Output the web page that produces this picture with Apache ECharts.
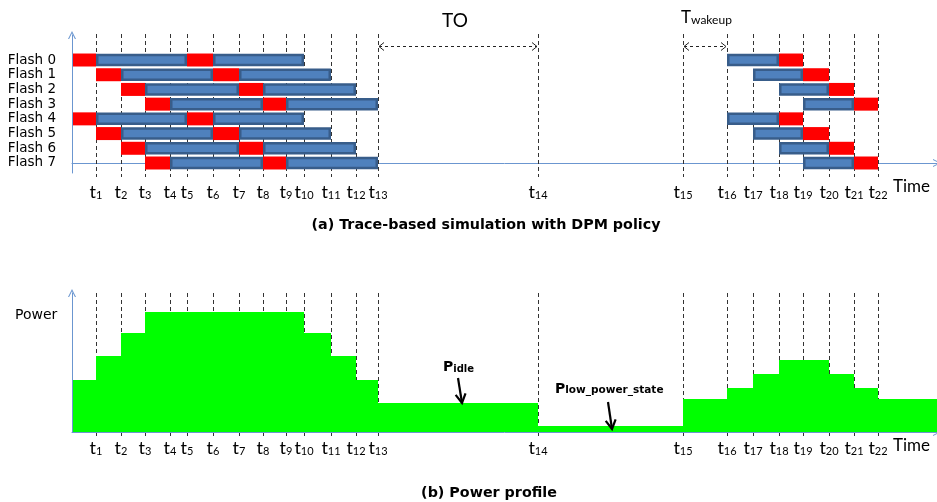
<!DOCTYPE html>
<html><head><meta charset="utf-8">
<script src="https://cdn.jsdelivr.net/npm/echarts@6/dist/echarts.min.js"></script>
<style>html,body{margin:0;padding:0;background:#fff}#c{width:937px;height:502px}</style>
</head><body><div id="c"></div>
<script>
// Time instants t0..t22 (t0 = time origin), in time units
const tickTimes = [0, 24, 49, 73, 98, 115, 141, 167, 191, 214, 232, 259, 284, 306, 466, 611, 655, 681, 707, 731, 757, 782, 806];
const timeEnd = 865;
const flashNames = ['Flash 0', 'Flash 1', 'Flash 2', 'Flash 3', 'Flash 4', 'Flash 5', 'Flash 6', 'Flash 7'];
// red operations: [flash, fromTick, toTick]
const redSegments = [
  [0, 0, 1], [0, 5, 6], [0, 18, 19],
  [1, 1, 2], [1, 6, 7], [1, 19, 20],
  [2, 2, 3], [2, 7, 8], [2, 20, 21],
  [3, 3, 4], [3, 8, 9], [3, 21, 22],
  [4, 0, 1], [4, 5, 6], [4, 18, 19],
  [5, 1, 2], [5, 6, 7], [5, 19, 20],
  [6, 2, 3], [6, 7, 8], [6, 20, 21],
  [7, 3, 4], [7, 8, 9], [7, 21, 22]
];
// blue operations: [flash, fromTick, toTick]
const blueSegments = [
  [0, 1, 5], [0, 6, 10], [0, 16, 18],
  [1, 2, 6], [1, 7, 11], [1, 17, 19],
  [2, 3, 7], [2, 8, 12], [2, 18, 20],
  [3, 4, 8], [3, 9, 13], [3, 19, 21],
  [4, 1, 5], [4, 6, 10], [4, 16, 18],
  [5, 2, 6], [5, 7, 11], [5, 17, 19],
  [6, 3, 7], [6, 8, 12], [6, 18, 20],
  [7, 4, 8], [7, 9, 13], [7, 19, 21]
];
// power profile: [fromTick, toTick (-1 = end of axis), power level]
const powerSteps = [
  [0, 1, 52], [1, 2, 76], [2, 3, 99], [3, 10, 120], [10, 11, 99], [11, 12, 76], [12, 13, 52],
  [13, 14, 29], [14, 15, 6], [15, 16, 33], [16, 17, 44], [17, 18, 58], [18, 20, 72],
  [20, 21, 58], [21, 22, 44], [22, -1, 33]
];
// interval annotations: [fromTick, toTick]
const intervalNotes = [[13, 14], [15, 16]];
const intervalLabels = ['TO', 'Twakeup'];
// power annotations: [textTime, textLevel, arrowFromTime, arrowFromLevel, arrowToTime, arrowToLevel]
const powerNotes = [[371, 67, 386, 54, 390, 29], [483, 45, 536, 30, 540, 3]];
const powerLabels = ['idle', 'low_power_state'];

const LATO = 'Lato, "Open Sans", sans-serif';
const DV = '"DejaVu Sans", Verdana, sans-serif';
const axisBlue = '#6B96D0';
const chevron = 'path://M0,10L5,0L10,10L8.6,10L5,2.8L1.4,10Z';

const tickRich = {
  t: { fontFamily: LATO, fontSize: 18, lineHeight: 20, verticalAlign: 'bottom', color: '#000' },
  s: { fontFamily: LATO, fontSize: 11, lineHeight: 10, verticalAlign: 'bottom', color: '#000' }
};
function tickLabel(v) {
  const i = tickTimes.indexOf(v);
  return i > 0 ? '{t|t}{s|' + i + '}' : '';
}
function xAxisOf(gridIndex, margin) {
  return {
    type: 'value', gridIndex: gridIndex, min: 0, max: timeEnd,
    axisLine: { show: true, lineStyle: { color: axisBlue, width: 1 }, symbol: ['none', chevron], symbolSize: [9, 8] },
    axisTick: { show: false }, splitLine: { show: false },
    axisLabel: { show: true, customValues: tickTimes.slice(1), formatter: tickLabel, rich: tickRich, margin: margin, showMinLabel: true, showMaxLabel: true }
  };
}

function vLine(dy1, dy2) {
  return function (params, api) {
    const cs = params.coordSys;
    const p = api.coord([api.value(0), api.value(1)]);
    const x = Math.round(p[0]) + 0.5;
    return { type: 'line', shape: { x1: x, y1: cs.y + dy1, x2: x, y2: cs.y + cs.height + dy2 },
      style: { stroke: '#333', lineWidth: 1, lineDash: [4, 3] } };
  };
}
function segItem(kind) {
  return function (params, api) {
    const a = api.coord([api.value(0), api.value(2)]);
    const b = api.coord([api.value(1), api.value(2)]);
    const w = b[0] - a[0];
    if (kind === 'red') {
      return { type: 'rect', shape: { x: a[0], y: a[1] - 6.5, width: w, height: 13 }, style: { fill: '#FF0000' } };
    }
    return { type: 'rect', shape: { x: a[0] + 1.25, y: a[1] - 5, width: w - 2.5, height: 10 },
      style: { fill: '#4F81BD', stroke: '#385D8A', lineWidth: 2.5 } };
  };
}
function intervalItem(params, api) {
  const cs = params.coordSys;
  const x0 = api.coord([api.value(0), 0])[0];
  const x1 = api.coord([api.value(1), 0])[0];
  const y = cs.y + 11.5;
  const idx = api.value(2);
  const st = { stroke: '#222', lineWidth: 1, fill: null };
  const children = [
    { type: 'line', shape: { x1: x0 + 1, y1: y, x2: x1 - 1, y2: y }, style: { stroke: '#222', lineWidth: 1, lineDash: [3, 3] } },
    { type: 'polyline', shape: { points: [[x0 + 6, y - 4], [x0 + 1, y], [x0 + 6, y + 4]] }, style: st },
    { type: 'polyline', shape: { points: [[x1 - 6, y - 4], [x1 - 1, y], [x1 - 6, y + 4]] }, style: st }
  ];
  if (idx === 0) {
    children.push({ type: 'text', style: { text: intervalLabels[0], x: (x0 + x1) / 2 - 3, y: y - 26, align: 'center', verticalAlign: 'middle', fontFamily: LATO, fontSize: 19, fill: '#000' } });
  } else {
    children.push({ type: 'text', style: { text: '{T|T}{s|wakeup}', x: x0 - 2, y: y - 30, align: 'left', verticalAlign: 'middle',
      rich: { T: { fontFamily: LATO, fontSize: 17, lineHeight: 20, verticalAlign: 'bottom', fill: '#000' },
              s: { fontFamily: LATO, fontSize: 12, lineHeight: 10, verticalAlign: 'bottom', fill: '#000' } } } });
  }
  return { type: 'group', children: children };
}
function powerItem(params, api) {
  const sc = api.value(6) === 1 ? 10.5 : 10;
  const t = api.coord([api.value(0), api.value(1)]);
  const f = api.coord([api.value(2), api.value(3)]);
  const e = api.coord([api.value(4), api.value(5)]);
  const dx = e[0] - f[0], dy = e[1] - f[1];
  const len = Math.sqrt(dx * dx + dy * dy);
  const ux = dx / len, uy = dy / len;
  const h = 9, s = 5;
  const l = [e[0] - ux * h - uy * s, e[1] - uy * h + ux * s];
  const r = [e[0] - ux * h + uy * s, e[1] - uy * h - ux * s];
  return { type: 'group', children: [
    { type: 'line', shape: { x1: f[0], y1: f[1], x2: e[0], y2: e[1] }, style: { stroke: '#000', lineWidth: 2.2 } },
    { type: 'polyline', shape: { points: [l, e, r] }, style: { stroke: '#000', lineWidth: 2.2, fill: null } },
    { type: 'text', style: { text: '{p|P}{s|' + powerLabels[api.value(6)] + '}', x: t[0], y: t[1], align: 'left', verticalAlign: 'middle',
      rich: { p: { fontFamily: DV, fontWeight: 'bold', fontSize: 14, lineHeight: 18, verticalAlign: 'bottom', fill: '#000' },
              s: { fontFamily: DV, fontWeight: 'bold', fontSize: sc, lineHeight: 10, verticalAlign: 'bottom', fill: '#000' } } } }
  ] };
}
function powerRect(params, api) {
  const a = api.coord([api.value(0), api.value(2)]);
  const b = api.coord([api.value(1), 0]);
  return { type: 'rect', shape: { x: a[0], y: a[1], width: b[0] - a[0], height: b[1] - a[1] }, style: { fill: '#00FF00' } };
}

const chart = echarts.init(document.getElementById('c'));
chart.setOption({
  animation: false,
  backgroundColor: '#fff',
  title: [
    { text: '(a) Trace-based simulation with DPM policy', left: 481, top: 213, textAlign: 'center',
      textStyle: { fontFamily: DV, fontWeight: 'bold', fontSize: 14.3, color: '#000' } },
    { text: '(b) Power profile', left: 484, top: 481, textAlign: 'center',
      textStyle: { fontFamily: DV, fontWeight: 'bold', fontSize: 14.3, color: '#000' } }
  ],
  grid: [
    { left: 72, top: 35, width: 865, height: 138 },
    { left: 72, top: 293, width: 865, height: 139 }
  ],
  xAxis: [xAxisOf(0, 8), xAxisOf(1, 5)],
  yAxis: [
    { type: 'value', gridIndex: 0, min: -0.68, max: 8.7, z: 5,
      axisLine: { show: true, lineStyle: { color: axisBlue }, symbol: ['none', chevron], symbolSize: [9, 8] },
      axisTick: { show: false }, splitLine: { show: false },
      axisLabel: { show: true, customValues: [0, 1, 2, 3, 4, 5, 6, 7], formatter: function (v) { return flashNames[7 - Math.round(v)]; },
        margin: 16, fontFamily: DV, fontSize: 13.5, color: '#000' } },
    { type: 'value', gridIndex: 1, min: 0, max: 139, z: 5,
      axisLine: { show: true, lineStyle: { color: axisBlue }, symbol: ['none', chevron], symbolSize: [9, 8] },
      axisTick: { show: false }, splitLine: { show: false }, axisLabel: { show: false } }
  ],
  graphic: [
    { type: 'text', left: 15, top: 308, style: { text: 'Power', fontFamily: DV, fontSize: 14, fill: '#000' } },
    { type: 'text', left: 893, top: 178, style: { text: 'Time', fontFamily: LATO, fontSize: 17, fill: '#000' } },
    { type: 'text', left: 893, top: 437, style: { text: 'Time', fontFamily: LATO, fontSize: 17, fill: '#000' } }
  ],
  series: [
    { type: 'custom', xAxisIndex: 0, yAxisIndex: 0, z: 1, clip: false, renderItem: vLine(-1, 4),
      encode: { x: 0, y: 1 }, data: tickTimes.slice(1).map(v => [v, 0]) },
    { type: 'custom', xAxisIndex: 0, yAxisIndex: 0, z: 3, clip: false, renderItem: segItem('red'),
      encode: { x: [0, 1], y: 2 }, data: redSegments.map(s => [tickTimes[s[1]], tickTimes[s[2]], 7 - s[0]]) },
    { type: 'custom', xAxisIndex: 0, yAxisIndex: 0, z: 4, clip: false, renderItem: segItem('blue'),
      encode: { x: [0, 1], y: 2 }, data: blueSegments.map(s => [tickTimes[s[1]], tickTimes[s[2]], 7 - s[0]]) },
    { type: 'custom', xAxisIndex: 0, yAxisIndex: 0, z: 4, clip: false, renderItem: intervalItem,
      encode: { x: [0, 1] }, data: intervalNotes.map((n, i) => [tickTimes[n[0]], tickTimes[n[1]], i]) },
    { type: 'custom', xAxisIndex: 1, yAxisIndex: 1, z: 1, clip: false, renderItem: vLine(0, 4),
      encode: { x: 0, y: 1 }, data: tickTimes.slice(1).map(v => [v, 0]) },
    { type: 'custom', xAxisIndex: 1, yAxisIndex: 1, z: 2, clip: false, renderItem: powerRect,
      encode: { x: [0, 1], y: 2 }, data: powerSteps.map(p => [tickTimes[p[0]], p[1] < 0 ? timeEnd : tickTimes[p[1]], p[2]]) },
    { type: 'custom', xAxisIndex: 1, yAxisIndex: 1, z: 6, clip: false, renderItem: powerItem,
      encode: { x: 0, y: 1 }, data: powerNotes.map((n, i) => n.concat([i])) }
  ]
});
</script>
</body></html>
